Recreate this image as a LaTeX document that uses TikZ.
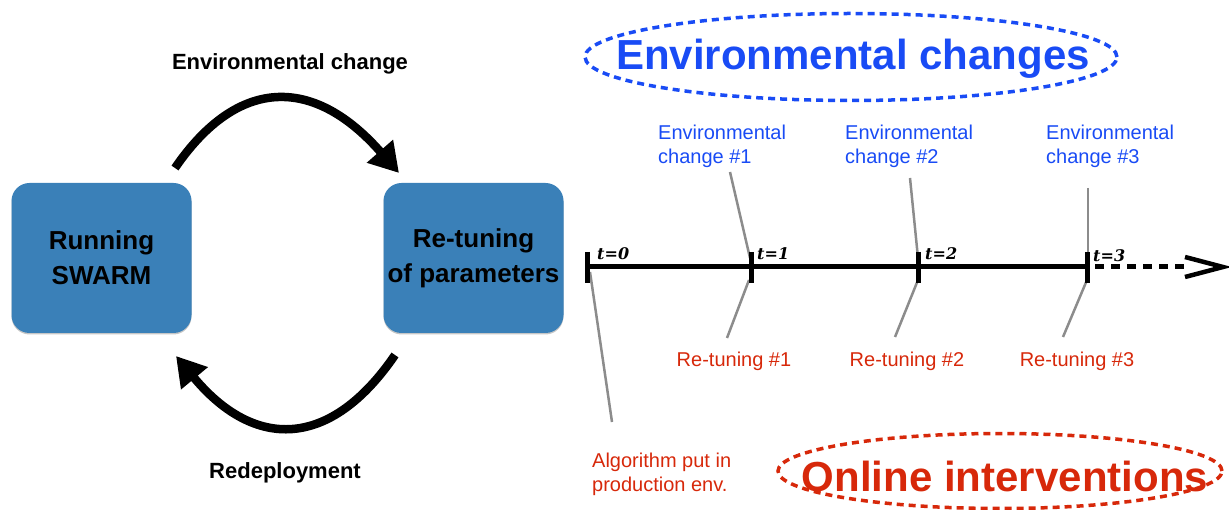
\documentclass[tikz,border=0pt]{standalone}
\usepackage{fontspec}
\setsansfont{Liberation Sans}
\newfontfamily\tickfont{DejaVu Serif}
\usetikzlibrary{shapes.geometric,arrows.meta,shadows,calc}

\definecolor{boxblue}{RGB}{58,128,184}
\definecolor{labblue}{RGB}{25,75,245}
\definecolor{labred}{RGB}{215,40,10}
\definecolor{leader}{RGB}{140,140,140}

\begin{document}
\begin{tikzpicture}[x=1pt,y=-1pt,
  procbox/.style={fill=boxblue, rounded corners=18pt, minimum width=180pt,
    minimum height=150pt, inner sep=0pt, align=center,
    drop shadow={shadow xshift=0pt, shadow yshift=-1.5pt, opacity=0.45},
    font=\sffamily\bfseries\fontsize{26}{35}\selectfont},
  cyclearrow/.style={line width=8.5pt, -{Triangle[length=29pt,width=33pt]}},
  cyclelabel/.style={font=\sffamily\bfseries\fontsize{22}{25}\selectfont, inner sep=0pt},
  timeline/.style={line width=5pt},
  tlabel/.style={font=\tickfont\bfseries\itshape\fontsize{16}{16}\selectfont, inner sep=0pt},
  leaderline/.style={draw=leader, line width=2.5pt},
  chlabel/.style={font=\sffamily\fontsize{20}{24}\selectfont, text=labblue, inner sep=0pt, align=left},
  rtlabel/.style={font=\sffamily\fontsize{20}{24}\selectfont, text=labred, inner sep=0pt, align=left},
  dashell/.style={ellipse, draw, line width=3.5pt, dash pattern=on 7pt off 5pt, inner sep=0pt},
  bigtitle/.style={font=\sffamily\bfseries\fontsize{42}{46}\selectfont, inner sep=0pt}
]
\useasboundingbox (0,0) rectangle (1229,510);

% ---------- feedback cycle ----------
\node[procbox] (run) at (101.5,258) {Running\\SWARM};
\node[procbox] (retune) at (473.5,258) {Re-tuning\\of parameters};

\node[cyclelabel, anchor=base] (envlab) at (290,70) {Environmental change};
\node[cyclelabel, anchor=base] (redep) at (285,478) {Redeployment};

\coordinate (upStart) at (175,168);
\coordinate (upEnd) at (399,173);
\coordinate (dnStart) at (395,355);
\coordinate (dnEnd) at (176,356);
\draw[cyclearrow] (upStart) .. controls (238,76) and (314,76) .. (upEnd);
\draw[cyclearrow] (dnStart) .. controls (330,450) and (254,450) .. (dnEnd);

% ---------- leader lines ----------
\coordinate (a0) at (612,422);
\coordinate (b0) at (590,272);
\coordinate (u1) at (730,172);
\coordinate (v1) at (750,258);
\coordinate (w1) at (749,280);
\coordinate (z1) at (727,338);
\coordinate (u2) at (910,178);
\coordinate (v2) at (918,258);
\coordinate (w2) at (918,280);
\coordinate (z2) at (895,337);
\coordinate (u3) at (1088,188);
\coordinate (v3) at (1088,258);
\coordinate (w3) at (1087,280);
\coordinate (z3) at (1063,337);
\draw[leaderline] (b0) -- (a0);
\draw[leaderline] (u1) -- (v1);
\draw[leaderline] (w1) -- (z1);
\draw[leaderline] (u2) -- (v2);
\draw[leaderline] (w2) -- (z2);
\draw[leaderline] (u3) -- (v3);
\draw[leaderline] (w3) -- (z3);

% ---------- time line ----------
\coordinate (t0) at (587,267);
\coordinate (t1) at (751,267);
\coordinate (t2) at (918,267);
\coordinate (t3) at (1087,267);
\coordinate (tend) at (1188,267);
\coordinate (ttip) at (1223,267);
\draw[timeline] (t0) -- (t3);
\foreach \t in {t0,t1,t2,t3}
  \draw[timeline] (\t) ++(0,-15) -- ++(0,31);
\draw[timeline, dash pattern=on 9pt off 7pt] (t3) ++(8,0) -- (tend);
\draw[line width=4.5pt, line join=miter] ($(ttip)+(-38,-10)$) -- (ttip) -- ($(ttip)+(-38,10)$);

\node[tlabel, anchor=base west] (lt0) at (597,260) {t=0};
\node[tlabel, anchor=base west] (lt1) at (757,260) {t=1};
\node[tlabel, anchor=base west] (lt2) at (925,260) {t=2};
\node[tlabel, anchor=base west] (lt3) at (1093,262) {t=3};

% ---------- labels along the time line ----------
\node[chlabel, anchor=north west] (env1) at (658,125) {Environmental\\change \#1};
\node[chlabel, anchor=north west] (env2) at (845,125) {Environmental\\change \#2};
\node[chlabel, anchor=north west] (env3) at (1046,125) {Environmental\\change \#3};

\node[rtlabel, anchor=base] (rt1) at (734,367) {Re-tuning \#1};
\node[rtlabel, anchor=base] (rt2) at (907,367) {Re-tuning \#2};
\node[rtlabel, anchor=base] (rt3) at (1077,367) {Re-tuning \#3};

\node[rtlabel, anchor=north west] (algo) at (592,452.5) {Algorithm put in\\production env.};

% ---------- headline ellipses ----------
\node[dashell, draw=labblue, minimum width=532pt, minimum height=87pt] (ecell) at (851,57) {};
\node[bigtitle, text=labblue] (ectext) at (853,59) {Environmental changes};

\node[dashell, draw=labred, minimum width=444pt, minimum height=75pt] (oiell) at (1000,471) {};
\node[bigtitle, text=labred] (oitext) at (1005,476) {Online interventions};
\end{tikzpicture}
\end{document}
